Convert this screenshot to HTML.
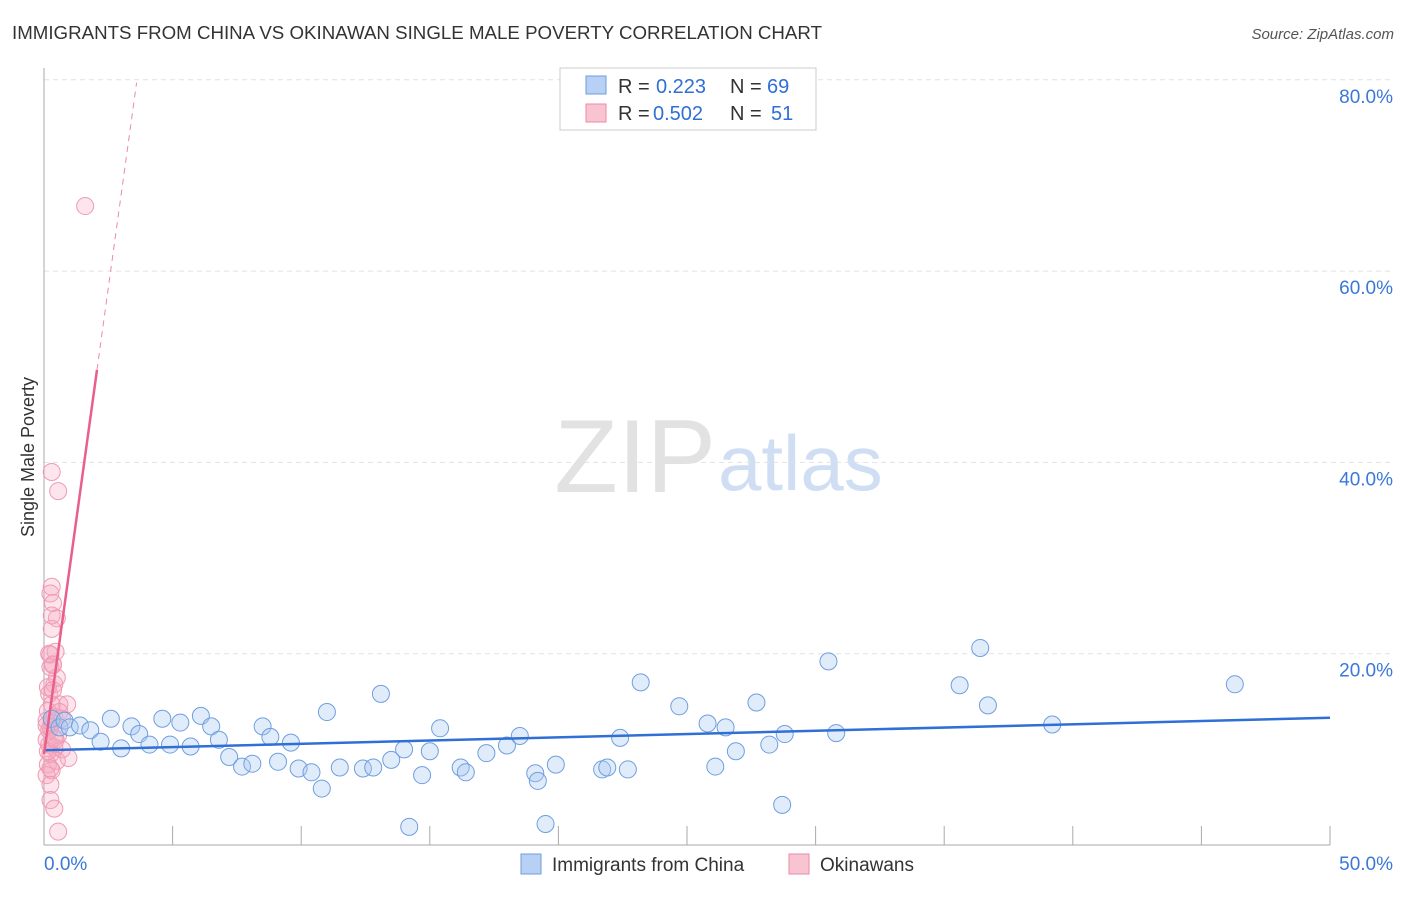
<!DOCTYPE html>
<html><head><meta charset="utf-8"><style>
body{margin:0;background:#fff;font-family:"Liberation Sans",sans-serif;}
svg text{font-family:"Liberation Sans",sans-serif;}
</style></head><body>
<svg width="1406" height="892" xmlns="http://www.w3.org/2000/svg">
<text x="12" y="39" font-size="18" fill="#333" textLength="810" lengthAdjust="spacingAndGlyphs">IMMIGRANTS FROM CHINA VS OKINAWAN SINGLE MALE POVERTY CORRELATION CHART</text>
<text x="1394" y="39" font-size="15" fill="#555" text-anchor="end" font-style="italic">Source: ZipAtlas.com</text>
<text x="0" y="0" transform="translate(34,457) rotate(-90)" font-size="18" fill="#333" text-anchor="middle">Single Male Poverty</text>
<text x="716" y="492" font-size="104" fill="#e2e2e2" text-anchor="end" font-family="Liberation Serif">ZIP</text>
<text x="718" y="490" font-size="78" fill="#d0def4">atlas</text>
<g id="grid"></g><g id="axes"></g><g id="pink"></g><g id="blue"></g><g id="lines"></g>
<g>
<rect x="560" y="68" width="256" height="62" fill="#fff" stroke="#ccc"/>
<rect x="586" y="76" width="20" height="18" fill="#b8d0f4" stroke="#6c9de0"/>
<rect x="586" y="104" width="20" height="18" fill="#f8c4d2" stroke="#eb8aa6"/>
<text x="618" y="93" font-size="20" fill="#333">R =</text><text x="656" y="93" font-size="20" fill="#2f6fd6">0.223</text>
<text x="730" y="93" font-size="20" fill="#333">N =</text><text x="767" y="93" font-size="20" fill="#2f6fd6">69</text>
<text x="618" y="120" font-size="20" fill="#333">R =</text><text x="653" y="120" font-size="20" fill="#2f6fd6">0.502</text>
<text x="730" y="120" font-size="20" fill="#333">N =</text><text x="771" y="120" font-size="20" fill="#2f6fd6">51</text>
</g>
<g>
<rect x="521" y="854" width="20" height="20" fill="#b8d0f4" stroke="#6c9de0"/>
<text x="552" y="871" font-size="19" fill="#333">Immigrants from China</text>
<rect x="789" y="854" width="20" height="20" fill="#f8c4d2" stroke="#eb8aa6"/>
<text x="820" y="871" font-size="19" fill="#333">Okinawans</text>
</g>
</svg>
<script>
const yTicks=[20,40,60,80];
const blueX=[0.3,0.6,0.8,1.0,1.4,1.8,2.2,2.6,3.0,3.4,3.7,4.1,4.6,4.9,5.3,5.7,6.1,6.5,6.8,7.2,7.7,8.1,8.5,8.8,9.1,9.6,9.9,10.4,10.8,11.0,11.5,12.4,12.8,13.1,13.5,14.0,14.2,14.7,15.0,15.4,16.2,16.4,17.2,18.0,18.5,19.1,19.2,19.5,19.9,21.7,21.9,22.4,22.7,23.2,24.7,25.8,26.1,26.5,26.9,27.7,28.2,28.7,28.8,30.5,30.8,35.6,36.4,36.7,39.2,46.3];
const blueY=[13.2,12.3,13.0,12.3,12.5,12.0,10.8,13.2,10.1,12.4,11.6,10.5,13.2,10.5,12.8,10.3,13.5,12.4,11.0,9.2,8.2,8.5,12.4,11.3,8.7,10.7,8.0,7.6,5.9,13.9,8.1,8.0,8.1,15.8,8.9,10.0,1.9,7.3,9.8,12.2,8.1,7.6,9.6,10.4,11.4,7.5,6.7,2.2,8.4,7.9,8.1,11.2,7.9,17.0,14.5,12.7,8.2,12.3,9.8,14.9,10.5,4.2,11.6,19.2,11.7,16.7,20.6,14.6,12.6,16.8];
const pinkX=[0.3,0.55,0.3,0.25,0.35,0.5,0.3,0.45,0.25,0.35,0.25,0.4,0.2,0.3,0.6,0.9,0.15,0.4,0.7,0.25,0.55,0.1,0.4,0.7,0.25,0.5,0.95,0.15,0.3,0.1,0.25,0.25,0.4,0.55,1.6,0.15,0.35,0.1,0.6,0.2,0.4,0.2,0.3,0.15,0.5,0.1,0.35,0.2,0.3,0.45,0.25];
const pinkY=[39.0,37.0,27.0,26.3,25.3,23.7,22.6,20.2,19.9,18.9,18.6,16.8,15.8,14.7,14.7,14.7,14.0,13.4,13.2,12.3,11.5,11.0,10.2,10.0,9.5,8.8,9.1,8.4,7.8,7.3,6.3,4.7,3.8,1.4,66.8,16.5,16.2,13.0,13.9,10.5,11.2,12.0,12.8,9.8,17.5,12.5,18.8,20.0,24.0,11.0,8.0];
const blueFit=[9.9,13.3];
const pinkFit=[9.5,19.5];
const X=v=>44+v/50*1286, Y=v=>845-v/20*191.3;
const NS="http://www.w3.org/2000/svg";
function mk(p,t,a){const e=document.createElementNS(NS,t);for(const k in a)e.setAttribute(k,a[k]);document.getElementById(p).appendChild(e);return e;}
yTicks.forEach(t=>{
const l=mk('grid','line',{x1:44,x2:1394,y1:Y(t),y2:Y(t),stroke:'#e2e2e2','stroke-dasharray':'5,4'});


const tx=mk('grid','text',{x:1393,y:Y(t)+23,'font-size':19,fill:'#3a78d8','text-anchor':'end'});tx.textContent=t.toFixed(1)+'%';


});
mk('axes','line',{x1:44,x2:44,y1:68,y2:845,stroke:'#aaa'});
mk('axes','line',{x1:44,x2:1330,y1:845,y2:845,stroke:'#aaa'});
for(let i=1;i<=10;i++){mk('axes','line',{x1:X(i*5),x2:X(i*5),y1:826,y2:845,stroke:'#aaa'});}
const x0=mk('axes','text',{x:44,y:870,'font-size':19,fill:'#3a78d8'});x0.textContent='0.0%';


const x1=mk('axes','text',{x:1393,y:870,'font-size':19,fill:'#3a78d8','text-anchor':'end'});x1.textContent='50.0%';


pinkX.forEach((v,i)=>{const c=mk('pink','circle',{cx:X(v),cy:Y(pinkY[i]),r:8.5,fill:'rgba(244,170,192,0.3)',stroke:'#f09ab4','stroke-width':1});

});
blueX.forEach((v,i)=>{const c=mk('blue','circle',{cx:X(v),cy:Y(blueY[i]),r:8.5,fill:'rgba(170,200,240,0.35)',stroke:'#6f9ee0','stroke-width':1});

});
const bl=mk('lines','line',{x1:X(0),y1:Y(blueFit[0]),x2:X(50),y2:Y(blueFit[1]),stroke:'#2f6fd6','stroke-width':2.5});


const pf=x=>pinkFit[0]+pinkFit[1]*x;
const pl=mk('lines','line',{x1:X(0),y1:Y(pf(0)),x2:X(2.06),y2:Y(pf(2.06)),stroke:'#e8608a','stroke-width':2.5});


const pd=mk('lines','line',{x1:X(2.06),y1:Y(pf(2.06)),x2:X(3.6),y2:Y(pf(3.6)),stroke:'#eb8aa6','stroke-width':1,'stroke-dasharray':'6,5'});


</script>
</body></html>
